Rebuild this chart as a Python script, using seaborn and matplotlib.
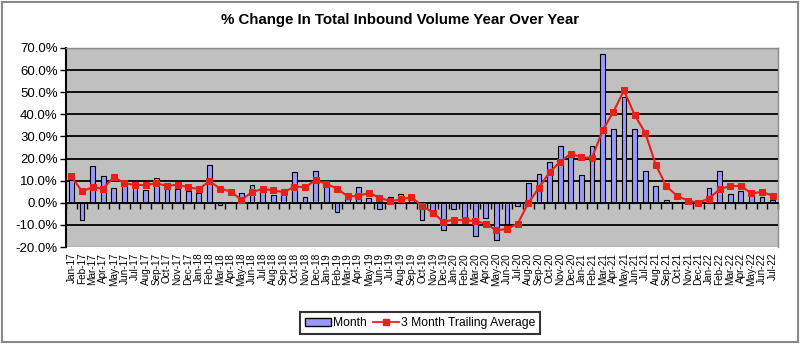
import numpy as np
import pandas as pd
import matplotlib
matplotlib.use("Agg")
import matplotlib.pyplot as plt
import seaborn as sns
from matplotlib.patches import Patch, Rectangle
from matplotlib.lines import Line2D
from matplotlib.ticker import FuncFormatter

title = "% Change In Total Inbound Volume Year Over Year"

labels = [
    "Jan-17", "Feb-17", "Mar-17", "Apr-17", "May-17", "Jun-17", "Jul-17", "Aug-17", "Sep-17", "Oct-17", "Nov-17", "Dec-17",
    "Jan-18", "Feb-18", "Mar-18", "Apr-18", "May-18", "Jun-18", "Jul-18", "Aug-18", "Sep-18", "Oct-18", "Nov-18", "Dec-18",
    "Jan-19", "Feb-19", "Mar-19", "Apr-19", "May-19", "Jun-19", "Jul-19", "Aug-19", "Sep-19", "Oct-19", "Nov-19", "Dec-19",
    "Jan-20", "Feb-20", "Mar-20", "Apr-20", "May-20", "Jun-20", "Jul-20", "Aug-20", "Sep-20", "Oct-20", "Nov-20", "Dec-20",
    "Jan-21", "Feb-21", "Mar-21", "Apr-21", "May-21", "Jun-21", "Jul-21", "Aug-21", "Sep-21", "Oct-21", "Nov-21", "Dec-21",
    "Jan-22", "Feb-22", "Mar-22", "Apr-22", "May-22", "Jun-22", "Jul-22",
]

month_vals = [
    10.5, -7.6, 16.8, 12.0, 6.7, 9.2, 9.6, 5.6, 11.2, 6.1, 6.1, 5.5,
    4.2, 17.2, -0.8, 0.4, 4.4, 8.0, 6.1, 3.3, 5.0, 14.1, 2.6, 14.4,
    9.8, -4.2, 1.5, 7.1, 2.0, -2.7, 2.7, 3.8, 3.2, -7.6, -6.0, -12.4,
    -3.0, -7.0, -14.8, -6.8, -16.7, -9.8, -1.5, 8.9, 12.9, 18.5, 25.5, 20.5,
    12.5, 25.5, 67.4, 33.2, 48.0, 33.2, 14.4, 7.4, 1.2, 0.4, 0.1, -0.3,
    6.6, 14.2, 3.8, 5.2, 3.0, 2.8, 1.2,
]

avg_vals = [
    11.9, 5.2, 7.0, 6.4, 11.7, 8.8, 8.1, 8.0, 8.9, 7.6, 8.2, 7.0,
    6.2, 9.8, 6.4, 5.1, 1.3, 4.8, 6.3, 5.6, 4.8, 7.3, 7.1, 10.2,
    8.6, 6.4, 3.0, 3.0, 4.5, 2.3, 0.7, 1.5, 2.5, -1.3, -4.4, -8.5,
    -7.7, -7.9, -8.2, -9.5, -12.5, -11.8, -9.5, -0.2, 6.8, 13.8, 18.6, 22.2,
    20.6, 20.3, 32.8, 41.0, 50.8, 39.8, 31.7, 17.2, 7.4, 3.2, 1.0, 0.0,
    1.9, 6.1, 7.6, 7.6, 4.3, 4.9, 3.2,
]

series_names = ["Month", "3 Month Trailing Average"]
y_ticks = [-20, -10, 0, 10, 20, 30, 40, 50, 60, 70]

BAR_COLOR = "#9999FF"
LINE_COLOR = "#E8201A"
PLOT_BG = "#C0C0C0"

n = len(labels)
df = pd.DataFrame({"label": labels, "month": month_vals, "avg": avg_vals, "pos": np.arange(n)})

plt.rcParams["font.family"] = ["Liberation Sans", "DejaVu Sans"]

fig = plt.figure(figsize=(8, 3.44), dpi=100)
ax = fig.add_axes([66 / 800, 1 - 247 / 344, 712 / 800, 199 / 344])

sns.barplot(data=df, x="label", y="month", color=BAR_COLOR, saturation=1, width=0.45,
            edgecolor="black", linewidth=0.8, ax=ax, zorder=2)
sns.lineplot(data=df, x="pos", y="avg", ax=ax, color=LINE_COLOR, marker="s", markersize=5,
             markeredgecolor=LINE_COLOR, linewidth=1.5, zorder=5)

# move the category axis line to the zero level first (this resets tick objects)
ax.spines["bottom"].set_position(("data", 0))

ax.set_facecolor(PLOT_BG)
ax.set_xlim(-0.5, n - 0.5)
ax.set_ylim(y_ticks[0], y_ticks[-1])
ax.set_yticks(y_ticks)
ax.yaxis.set_major_formatter(FuncFormatter(lambda v, p: f"{v:.1f}%"))
ax.set_axisbelow(True)
ax.yaxis.grid(True, color="black", linewidth=1.3)
ax.xaxis.grid(False)
gls = ax.get_ygridlines()
for g in (gls[0], gls[-1]):
    g.set_color("#8c8c8c")
    g.set_linewidth(1.0)

ax.set_xticks(np.arange(n))
ax.set_xticklabels(labels)
ax.set_xticks(np.arange(-0.5, n, 1), minor=True)
ax.tick_params(axis="x", which="major", length=0, pad=36, labelrotation=90, labelsize=7.2)
ax.tick_params(axis="x", which="minor", length=4, width=1, direction="out", color="black")
ax.tick_params(axis="y", which="major", length=4, width=1, direction="out", labelsize=9.5, pad=2)
for t in ax.get_xticklabels():
    t.set_verticalalignment("top")
    t.set_horizontalalignment("center")

ax.spines["bottom"].set_color("black")
ax.spines["bottom"].set_linewidth(1.3)
ax.spines["left"].set_color("black")
ax.spines["left"].set_linewidth(1.5)
for s in ("top", "right"):
    ax.spines[s].set_color("#8c8c8c")
    ax.spines[s].set_linewidth(1.0)
ax.set_xlabel("")
ax.set_ylabel("")

fig.text(0.5, 1 - 20 / 344, title, ha="center", va="center", fontsize=10.8, fontweight="bold")

handles = [
    Patch(facecolor=BAR_COLOR, edgecolor="black", linewidth=1.0),
    Line2D([], [], color=LINE_COLOR, marker="s", markersize=4.5, linewidth=1.3),
]
leg = fig.legend(handles, series_names, loc="center", bbox_to_anchor=(420 / 800, 1 - 323 / 344),
                 ncol=2, frameon=True, fancybox=False, edgecolor="black", fontsize=8.7,
                 handlelength=2.15, handleheight=0.6, columnspacing=0.55, handletextpad=0.15,
                 borderpad=0.4, borderaxespad=0)
leg.get_frame().set_linewidth(1.5)

fig.patches.append(Rectangle((0.003, 0.006), 0.994, 0.988, transform=fig.transFigure,
                             fill=False, edgecolor="#8a8a8a", linewidth=1.5))

fig.savefig("out.png", dpi=100, facecolor="white")
